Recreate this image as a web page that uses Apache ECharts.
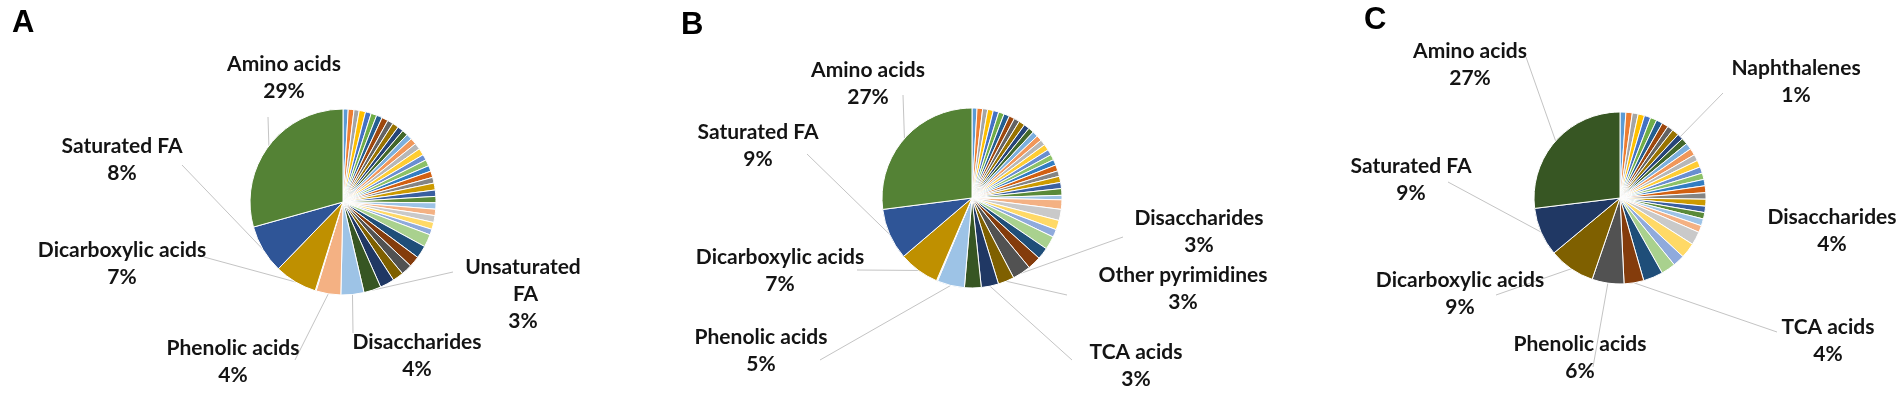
<!DOCTYPE html>
<html>
<head>
<meta charset="utf-8">
<script src="https://cdn.jsdelivr.net/npm/echarts@6/dist/echarts.min.js"></script>
<style>
  html, body { margin: 0; padding: 0; background: #fff; }
  #chart { width: 1903px; height: 393px; }
</style>
</head>
<body>
<div id="chart"></div>
<script>
const blank = n => new Array(n).fill('');

// Panel A: share of each compound class (%), clockwise from 12 o'clock
const valuesA = [
  0.9, 1.0, 0.9, 1.1, 1.0, 1.0,
  1.0, 1.1, 1.0, 1.1, 1.0, 1.0,
  1.0, 1.1, 1.1, 1.2, 1.0, 1.1,
  1.0, 1.1, 1.0, 1.2, 1.1, 1.1,
  1.1, 1.1, 1.2, 1.2, 1.0, 2.2,
  2.2, 1.9, 1.9, 1.9, 2.5, 3.0,
  4.0, 4.3, 0.15, 7.4, 8.4, 29.3
];
const namesA = [...blank(35), 'Unsaturated FA', 'Disaccharides', 'Phenolic acids', '',
  'Dicarboxylic acids', 'Saturated FA', 'Amino acids'];

// Panel B
const valuesB = [
  0.9, 1.0, 0.9, 1.0, 1.0, 1.0,
  1.0, 1.0, 1.0, 1.1, 1.0, 1.0,
  1.0, 1.0, 1.0, 1.1, 1.0, 1.0,
  1.0, 1.1, 1.0, 1.1, 1.1, 1.2,
  0.8, 1.7, 2.0, 1.7, 1.4, 2.4,
  2.1, 2.4, 3.3, 2.9, 3.1, 3.0,
  4.9, 0.1, 0.1, 7.3, 9.2, 27.0
];
const namesB = [...blank(32), 'Disaccharides', 'Other pyrimidines', 'TCA acids', '',
  'Phenolic acids', '', '', 'Dicarboxylic acids', 'Saturated FA', 'Amino acids'];

// Panel C
const valuesC = [
  1.1, 1.2, 1.1, 1.2, 1.2, 1.2,
  1.2, 1.2, 1.1, 1.3, 1.1, 1.2,
  1.2, 1.3, 1.2, 1.3, 1.2, 1.2,
  1.2, 1.3, 1.2, 1.3, 1.2, 1.2,
  1.3, 1.3, 2.5, 2.9, 2.2, 2.7,
  3.7, 3.7, 6.0, 8.7, 9.1, 26.9
];
const namesC = [...blank(10), 'Naphthalenes', ...blank(19), 'Disaccharides', 'TCA acids',
  'Phenolic acids', 'Dicarboxylic acids', 'Saturated FA', 'Amino acids'];

// Office-style colour cycles, six per round
const cycles = [
  ['#5B9BD5', '#ED7D31', '#A5A5A5', '#FFC000', '#4472C4', '#70AD47'],
  ['#255E91', '#9E480E', '#636363', '#997300', '#264478', '#43682B'],
  ['#7CAFDD', '#F1975A', '#B7B7B7', '#FFCD33', '#698ED0', '#8CC168'],
  ['#327DC2', '#D26012', '#848484', '#CC9A00', '#3A5FA0', '#5A8A39'],
  ['#9DC3E6', '#F4B183', '#C9C9C9', '#FFD966', '#8FAADC', '#A9D18E'],
  ['#1F4E79', '#843C0C', '#525252', '#7F6000', '#203864', '#375623'],
  ['#9DC3E6', '#F4B183', '#C9C9C9', '#BF9000', '#2F5597', '#548235']
];
const palette = cycles.flat();

// label placement, offsets from the pie centre: label block centre and leader start
const panels = [
  {
    letter: 'A', letterPos: [12, 8], center: [343, 202], radius: 93,
    values: valuesA, names: namesA,
    spots: {
      'Amino acids': { label: [-59, -124], line: [-75, -85] },
      'Saturated FA': { label: [-221, -42], line: [-161, -37] },
      'Dicarboxylic acids': { label: [-221, 62], line: [-139, 55] },
      'Phenolic acids': { label: [-110, 160], line: [-48, 158] },
      'Unsaturated FA': { label: [180, 92], line: [110, 70], width: 120 },
      'Disaccharides': { label: [74, 154], line: [10, 131] }
    }
  },
  {
    letter: 'B', letterPos: [681, 10], center: [972, 198], radius: 90,
    values: valuesB, names: namesB,
    spots: {
      'Amino acids': { label: [-104, -114], line: [-69, -103] },
      'Saturated FA': { label: [-214, -52], line: [-165, -44] },
      'Dicarboxylic acids': { label: [-192, 73], line: [-115, 72] },
      'Phenolic acids': { label: [-211, 153], line: [-152, 162] },
      'Disaccharides': { label: [227, 34], line: [151, 39] },
      'Other pyrimidines': { label: [211, 91], line: [95, 97] },
      'TCA acids': { label: [164, 168], line: [100, 162] }
    }
  },
  {
    letter: 'C', letterPos: [1364, 5], center: [1620, 198], radius: 86,
    values: valuesC, names: namesC,
    spots: {
      'Amino acids': { label: [-150, -133], line: [-94, -141] },
      'Saturated FA': { label: [-209, -18], line: [-172, -16] },
      'Dicarboxylic acids': { label: [-160, 96], line: [-124, 97] },
      'Phenolic acids': { label: [-40, 160], line: [-27, 169] },
      'Naphthalenes': { label: [176, -116], line: [103, -105] },
      'Disaccharides': { label: [212, 33], line: null },
      'TCA acids': { label: [208, 143], line: [157, 134] }
    }
  }
];

const labelFont = {
  fontFamily: 'Lato',
  fontWeight: 700,
  fontSize: 21,
  lineHeight: 27,
  color: '#141414',
  align: 'center'
};

function edgePoint(panel, idx) {
  const total = panel.values.reduce((s, v) => s + v, 0);
  let cum = 0;
  for (let i = 0; i < idx; i++) cum += panel.values[i];
  const a = (cum + panel.values[idx] / 2) / total * Math.PI * 2;
  return [
    panel.center[0] + panel.radius * Math.sin(a),
    panel.center[1] - panel.radius * Math.cos(a)
  ];
}

function buildSeries(panel) {
  const total = panel.values.reduce((s, v) => s + v, 0);
  const data = panel.values.map((v, i) => {
    const name = panel.names[i];
    const spot = panel.spots[name];
    const item = {
      value: v,
      name: name,
      itemStyle: { color: palette[i] }
    };
    if (spot) {
      item.label = { show: true };
      if (spot.width) {
        item.label.width = spot.width;
        item.label.overflow = 'break';
      }
      item.labelLine = { show: !!spot.line };
    } else {
      item.label = { show: false };
      item.labelLine = { show: false };
    }
    return item;
  });

  return {
    type: 'pie',
    center: panel.center,
    radius: panel.radius,
    startAngle: 90,
    clockwise: true,
    avoidLabelOverlap: false,
    silent: true,
    animation: false,
    itemStyle: { borderColor: '#fff', borderWidth: 1 },
    label: Object.assign({
      position: 'outside',
      formatter: p => p.name + '\n' + Math.round(p.value / total * 100) + '%'
    }, labelFont),
    labelLine: {
      show: true,
      lineStyle: { color: '#c4c4c4', width: 1 }
    },
    labelLayout: params => {
      const spot = panel.spots[panel.names[params.dataIndex]];
      if (!spot) return {};
      const cx = panel.center[0];
      const cy = panel.center[1];
      const out = {
        x: cx + spot.label[0],
        y: cy + spot.label[1],
        align: 'center',
        verticalAlign: 'middle'
      };
      if (spot.line) {
        out.labelLinePoints = [
          [cx + spot.line[0], cy + spot.line[1]],
          edgePoint(panel, params.dataIndex)
        ];
      }
      return out;
    },
    data: data
  };
}

const chart = echarts.init(document.getElementById('chart'), null, { renderer: 'canvas' });

chart.setOption({
  backgroundColor: '#fff',
  animation: false,
  title: panels.map(p => ({
    text: p.letter,
    left: p.letterPos[0],
    top: p.letterPos[1],
    padding: 0,
    textStyle: {
      fontFamily: 'Liberation Sans',
      fontWeight: 'bold',
      fontSize: 31,
      color: '#000'
    }
  })),
  series: panels.map(buildSeries)
});
</script>
</body>
</html>
